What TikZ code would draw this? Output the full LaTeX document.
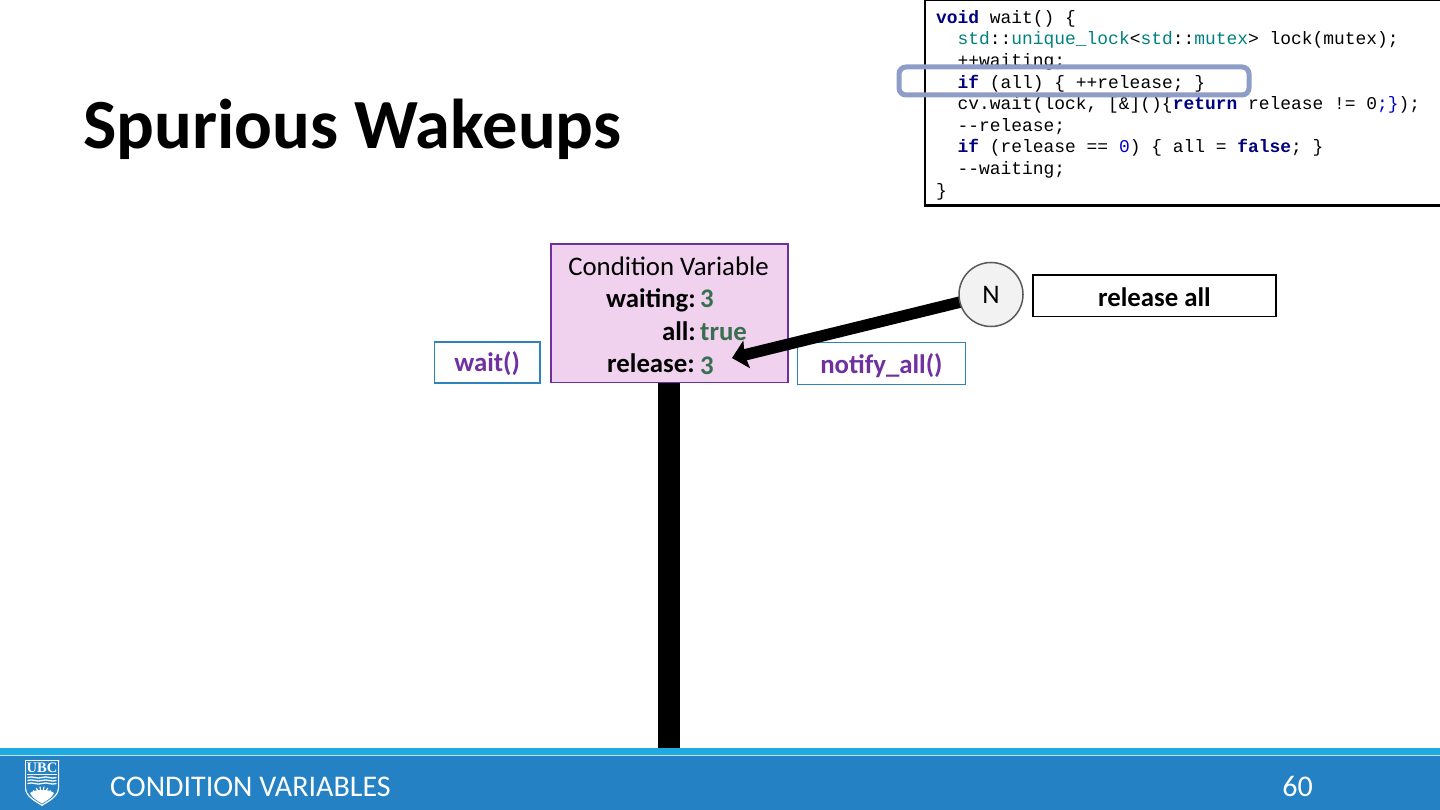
\documentclass[tikz,border=0pt]{standalone}
\usepackage{fontspec}
\setmainfont{Carlito}
\newfontfamily\codefont{Liberation Mono}
\newfontfamily\logofont{Liberation Serif}
\usetikzlibrary{arrows.meta}
\pgfdeclarelayer{front}
\pgfsetlayers{main,front}
\definecolor{cvfill}{HTML}{F0D1EE}
\definecolor{cvline}{HTML}{7030A0}
\definecolor{valgreen}{HTML}{38704F}
\definecolor{boxblue}{HTML}{2E83BE}
\definecolor{footblue}{HTML}{2481C4}
\definecolor{footlight}{HTML}{1FA9E1}
\definecolor{hl}{HTML}{8E9CC8}
\definecolor{kw}{HTML}{000080}
\definecolor{ty}{HTML}{008080}
\definecolor{num}{HTML}{0000C8}
\definecolor{nbg}{HTML}{F2F2F2}
\newcommand{\fsz}[1]{\fontsize{#1pt}{#1pt}\selectfont}
\newcommand{\kwd}[1]{\textcolor{kw}{\textbf{#1}}}
\newcommand{\typ}[1]{\textcolor{ty}{#1}}
\newcommand{\ind}{\hspace*{21.5pt}}
\tikzset{
  actionbox/.style={draw=boxblue,line width=1.8pt,fill=white,inner sep=0pt,text=cvline,font=\fsz{26.8}\bfseries,text height=20pt},
  cvlabel/.style={inner sep=0pt,anchor=base east,font=\fsz{26.8}\bfseries,text=black},
  cvvalue/.style={inner sep=0pt,anchor=base west,font=\fsz{26.8}\bfseries,text=valgreen},
  bigarrow/.style={draw=black,line width=11.5pt,-{Stealth[length=15pt,width=28pt,inset=2pt]}}
}
\begin{document}
\begin{tikzpicture}[x=1pt,y=-1pt]
\useasboundingbox (0,0) rectangle (1440,810);
\fill[white] (0,0) rectangle (1440,810);
% thick vertical bar
\fill[black] (658,382) rectangle (680,748);
% title
\node[anchor=base west,inner sep=0pt,font=\fsz{70.5}\bfseries] (title) at (83,149) {Spurious Wakeups};
% code box
\node[draw=black,line width=2.2pt,fill=white,minimum width=517pt,minimum height=205.5pt,inner sep=0pt,anchor=north west] (code) at (923.5,-1) {};
\node[anchor=north west,inner sep=0pt,align=left,font=\codefont\fontsize{17.92pt}{21.62pt}\selectfont] (codetext) at (936,10) {%
\kwd{void} wait() \{\\
\ind\typ{std}::\typ{unique\_lock}<\typ{std}::\typ{mutex}> lock(mutex);\\
\ind ++waiting;\\
\ind\kwd{if} (all) \{ ++release; \}\\
\ind cv.wait(lock, [\&]()\{\kwd{return} release != 0\textcolor{num}{;\}});\\
\ind -{}-release;\\
\ind\kwd{if} (release == \textcolor{num}{0}) \{ all = \kwd{false}; \}\\
\ind -{}-waiting;\\
\}};
% highlight
\draw[hl,line width=5pt,rounded corners=7pt] (899,67) rectangle (1249,95);
% condition variable
\node[draw=cvline,line width=1.6pt,fill=cvfill,minimum width=237pt,minimum height=138pt,inner sep=0pt,anchor=north west] (cv) at (550,243.5) {};
\node[anchor=base,inner sep=0pt,font=\fsz{26.8}] (cvtitle) at (668.5,276) {Condition Variable};
\node[cvlabel] (l1) at (696,308) {waiting:};
\node[cvvalue] (v1) at (700,308) {3};
\node[cvlabel] (l2) at (696,340) {all:};
\node[cvvalue] (v2) at (700,340) {true};
\node[cvlabel] (l3) at (695,372.5) {release:};
\node[cvvalue] (v3) at (700,374) {3};
% buttons
\node[actionbox,text depth=2pt,minimum width=105.5pt,minimum height=41pt,anchor=north west] (wait) at (433.5,341) {wait()};
\node[actionbox,text depth=0pt,minimum width=168pt,minimum height=42pt,anchor=north west] (notify) at (796.5,341.5) {notify\_all()};
% N
\begin{pgfonlayer}{front}
\node[circle,draw=black!65,line width=1.5pt,fill=nbg,minimum size=64pt,inner sep=0pt,font=\fsz{26.8}] (N) at (991,294.5) {N};
\end{pgfonlayer}
\node[draw=black,line width=1.8pt,fill=white,minimum width=243pt,minimum height=41pt,inner sep=0pt,anchor=north west,font=\fsz{26.8}\bfseries,text height=22pt,text depth=0pt] (rel) at (1032,274.5) {release all};
% arrow
\coordinate (tip) at (732,358);
\draw[bigarrow] (N.center) -- (tip);
% footer
\fill[footlight] (0,748) rectangle (1440,755);
\fill[footblue] (0,755) rectangle (1440,810);
\draw[white!70!footlight,line width=0.8pt] (0,755.5) -- (1440,755.5);
\node[anchor=base west,inner sep=0pt,text=white,font=\fsz{30}] (foot) at (110,796) {CONDITION VARIABLES};
\node[anchor=base east,inner sep=0pt,text=white,font=\fsz{30}] (page) at (1313,796) {60};
% logo
\fill[white] (25,760) -- (59,760) -- (59,788) .. controls (59,797) and (48,802) .. (42,806) .. controls (36,802) and (25,797) .. (25,788) -- cycle;
\fill[footblue] (26.2,761.2) -- (57.8,761.2) -- (57.8,788) .. controls (57.8,796) and (47,801) .. (42,804.4) .. controls (37,801) and (26.2,796) .. (26.2,788) -- cycle;
\node[inner sep=0pt,text=white,font=\logofont\fsz{14.5}\bfseries] (ubc) at (42,768) {UBC};
\draw[white,line width=0.8pt] (27,774.5) -- (57,774.5);
\foreach \yy in {777.5,780.5,783.5}{\draw[white,line width=1.3pt] (27.5,\yy) .. controls (33,\yy-2) and (37,\yy+2) .. (42,\yy) .. controls (47,\yy-2) and (51,\yy+2) .. (56.5,\yy);}
\foreach \aa in {-70,-50,-30,-10,10,30,50,70}{\draw[white,line width=1.2pt] (42,798) -- ++(90+\aa:-11.5);}
\fill[white] (30,793) .. controls (34,789) and (50,789) .. (54,793) .. controls (52,798) and (46,801) .. (42,803.5) .. controls (38,801) and (32,798) .. (30,793) -- cycle;
\end{tikzpicture}
\end{document}
